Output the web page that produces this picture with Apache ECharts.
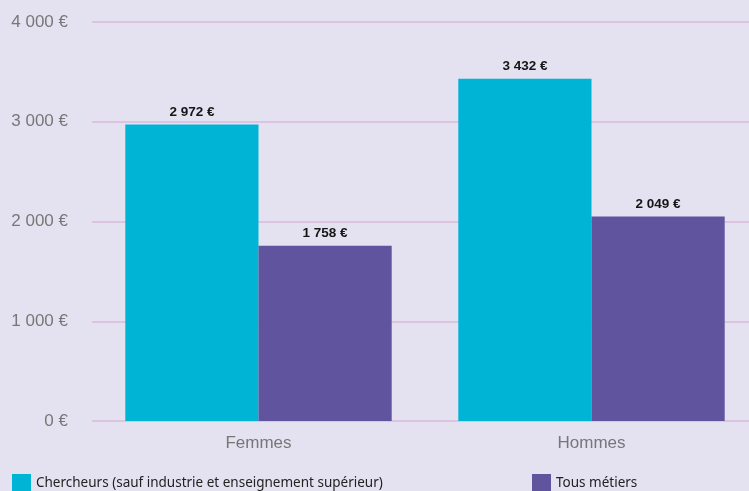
<!DOCTYPE html>
<html><head><meta charset="utf-8">
<script src="https://cdn.jsdelivr.net/npm/echarts@6/dist/echarts.min.js"></script>
<style>html,body{margin:0;padding:0;background:#e4e2f1;}#c{width:749px;height:491px;}</style>
</head><body><div id="c"></div>
<script>
var categories = ['Femmes', 'Hommes'];
var chercheurs = [2972, 3432];
var tousMetiers = [1758, 2049];
var seriesNames = ['Chercheurs (sauf industrie et enseignement supérieur)', 'Tous métiers'];
var yTicks = [0, 1000, 2000, 3000, 4000];

function fmt(v){ return String(v).replace(/\B(?=(\d{3})+(?!\d))/g, ' ') + ' €'; }

var chart = echarts.init(document.getElementById('c'));
var labelCfg = {show:true, position:'top', formatter:function(p){return fmt(p.value);}, fontFamily:'Liberation Sans', fontWeight:'bold', fontSize:13.5, color:'#151515', distance:5};
var legText = {fontFamily:'Noto Sans', fontSize:13.5, color:'#222', padding:[4,0,0,0]};
chart.setOption({
  backgroundColor:'#e4e2f1',
  animation:false,
  grid:{left:92, width:666, top:22, bottom:70, outerBoundsMode:'none', containLabel:false},
  legend:[
    {data:[seriesNames[0]], left:12, top:474, padding:0, itemWidth:19, itemHeight:19, icon:'rect', textStyle:legText},
    {data:[seriesNames[1]], left:532, top:474, padding:0, itemWidth:19, itemHeight:19, icon:'rect', textStyle:legText}
  ],
  xAxis:{type:'category', data:categories, axisLine:{show:false}, axisTick:{show:false},
    axisLabel:{fontFamily:'Liberation Sans', fontSize:17, color:'#777', margin:14}},
  yAxis:{type:'value', min:yTicks[0], max:yTicks[yTicks.length-1], interval:1000,
    axisLabel:{formatter:function(v){return fmt(v);}, fontFamily:'Liberation Sans', fontSize:17, color:'#777', margin:24},
    splitLine:{lineStyle:{color:'#dcc4e0', width:2}}},
  series:[
    {name:seriesNames[0], type:'bar', data:chercheurs, itemStyle:{color:'#00b4d6'}, barGap:'0%', barCategoryGap:'20%', label:labelCfg},
    {name:seriesNames[1], type:'bar', data:tousMetiers, itemStyle:{color:'#61549f'}, label:labelCfg}
  ]
});
</script></body></html>
